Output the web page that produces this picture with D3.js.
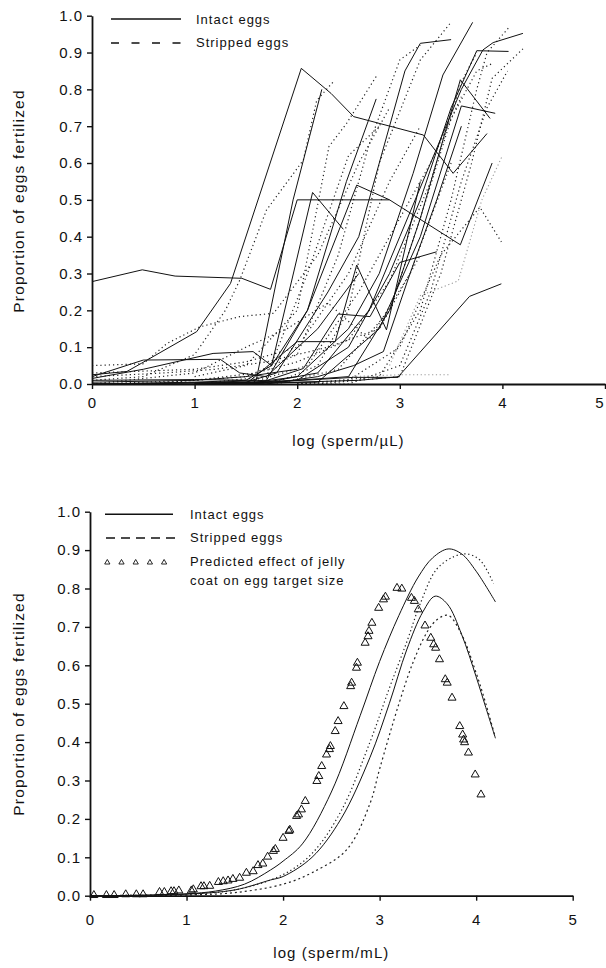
<!DOCTYPE html>
<html>
<head>
<meta charset="utf-8">
<script src="https://cdn.jsdelivr.net/npm/d3@7"></script>
<style>
  html, body { margin: 0; padding: 0; background: #fff; }
  svg { display: block; }
  text { font-family: "Liberation Sans", Arial, Helvetica, sans-serif; fill: #111; }
</style>
</head>
<body>
<svg id="fig" width="606" height="968"></svg>
<script>
// ---------- Panel A: individual fertilization trials, log (sperm/µL) vs proportion fertilized ----------
const xTicks = [0, 1, 2, 3, 4, 5];
const yTicks = [0, 0.1, 0.2, 0.3, 0.4, 0.5, 0.6, 0.7, 0.8, 0.9, 1.0];

// Intact-egg trials: [log sperm, proportion fertilized]
const intactTrials = [
  [[0,.278],[.49,.31],[.81,.293],[1.46,.287],[1.74,.257],[2.0,.5],[2.9,.5],[3.59,.378],[3.9,.6]],
  [[0,.025],[.34,.034],[.48,.056],[1.02,.142],[1.35,.273],[2.04,.857],[2.33,.789],[2.55,.726],[3.23,.676],[3.52,.572],[3.85,.68]],
  [[0,0],[1.0,.005],[1.5,.01],[1.75,.05],[2.15,.52],[2.45,.42]],
  [[0,0],[1.0,.003],[1.5,.005],[1.8,.03],[2.3,.25],[2.6,.4],[2.8,.6],[3.05,.85],[3.2,.925],[3.5,.935]],
  [[1.0,0],[1.6,.005],[2.0,.02],[2.5,.15],[2.8,.3],[3.13,.572],[3.42,.839],[3.71,.982]],
  [[1.2,0],[1.7,.005],[2.2,.03],[2.7,.2],[3.0,.4],[3.3,.6],[3.6,.8],[3.81,.907],[3.91,.927],[4.2,.952]],
  [[1.5,0],[2.0,.01],[2.5,.1],[2.9,.3],[3.2,.5],[3.5,.75],[3.75,.905],[4.06,.903]],
  [[1.0,0],[1.6,.003],[2.55,.018],[2.98,.018],[3.68,.238],[3.99,.272]],
  [[0,.01],[1.0,.012],[1.6,.01],[1.96,.5],[2.24,.8]],
  [[0.5,0],[1.2,.005],[1.7,.01],[2.1,.2],[2.48,.55],[2.77,.774]],
  [[1.0,0],[2.0,.01],[2.5,.02],[2.9,.2],[3.2,.45],[3.59,.826],[3.88,.721]],
  [[1.0,0],[2.2,.005],[2.8,.15],[3.2,.4],[3.6,.755],[3.93,.735]],
  [[0,.02],[.5,.065],[1.25,.067],[1.44,.03],[1.7,.02],[2.2,.15],[2.6,.3]],
  [[0,.015],[.5,.04],[1.18,.083],[1.57,.088],[1.75,.05],[2.1,.2],[2.58,.54],[2.9,.5]],
  [[1.5,0],[2.0,.115],[2.37,.115],[2.58,.323],[2.87,.147],[3.2,.55]],
  [[1.6,0],[2.06,.042],[2.4,.19],[2.71,.183],[3.0,.33],[3.36,.359]],
  [[1.7,0],[2.2,.02],[2.55,.05],[2.84,.088],[3.1,.3],[3.36,.5],[3.6,.7]],
  [[0,0],[1.5,0],[2.0,.005],[2.6,.01],[3.0,.02]],
  [[0,.005],[1.0,.01],[1.5,.02],[2.0,.04]]
];

// Jelly-stripped trials
const strippedTrials = [
  [[0,.05],[.5,.055],[.73,.11],[1.05,.155],[1.44,.183],[1.77,.192],[2.2,.35],[2.6,.6],[2.9,.75]],
  [[0,.01],[.5,.02],[1.0,.08],[1.3,.2],[1.44,.282],[1.7,.472],[2.06,.608],[2.19,.77],[2.35,.82]],
  [[1.0,.02],[1.5,.05],[2.0,.2],[2.31,.645],[2.48,.707],[2.77,.835]],
  [[1.5,0],[1.8,.005],[2.2,.05],[2.5,.2],[2.8,.6],[3.2,.88],[3.49,.979]],
  [[2.0,0],[2.8,.02],[3.2,.2],[3.5,.5],[3.75,.8],[3.85,.9],[4.07,.97]],
  [[2.2,0],[3.0,.02],[3.4,.3],[3.7,.6],[3.9,.83],[4.2,.91]],
  [[2.0,0],[2.5,.01],[3.0,.1],[3.4,.35],[3.78,.48],[3.99,.386]],
  [[2.0,0],[2.5,0],[3.0,.05],[3.3,.25],[3.6,.55],[3.85,.75],[4.05,.85]],
  [[0,.03],[1.0,.04],[1.5,.06],[2.0,.1],[2.5,.3],[2.9,.55],[3.2,.7]],
  [[0.5,0],[1.5,.02],[2.0,.08],[2.4,.35],[2.7,.65],[3.0,.88],[3.2,.92]],
  [[1.0,0],[1.7,.02],[2.1,.3],[2.5,.62],[2.8,.7]],
  [[1.5,0],[2.1,.05],[2.6,.25],[3.0,.45],[3.3,.6],[3.6,.78]],
  [[1.8,0],[2.4,.04],[2.9,.2],[3.2,.45],[3.5,.72],[3.75,.85],[3.9,.87]],
  [[0,0],[1.0,.03],[1.5,.1],[1.9,.15],[2.3,.22],[2.7,.12],[3.1,.3],[3.5,.6]],
  [[0,.02],[0.7,.03],[1.2,.04],[1.7,.06],[2.3,.1],[2.8,.15],[3.2,.35]],
  [[0,0],[1.0,.01],[1.6,.03],[2.0,.06],[2.5,.12],[2.9,.28],[3.3,.55],[3.6,.82],[3.75,.9]]
];
// Faint stripped trials
const strippedFaint = [
  [[2.5,.02],[3.0,.025],[3.5,.025]],
  [[2.9,.05],[3.2,.24],[3.57,.28],[3.8,.5],[4.0,.62]]
];

// ---------- Panel B: fitted curves and predicted jelly-coat effect ----------
const intactFitHigh = [[0,0],[0.5,.001],[1.0,.005],[1.3,.012],[1.6,.03],[1.87,.067],[2.0,.09],[2.2,.135],[2.5,.27],[2.8,.47],[3.0,.61],[3.2,.73],[3.4,.83],[3.55,.88],[3.71,.903],[3.85,.89],[4.0,.845],[4.2,.765]];
const intactFitLow  = [[0,0],[0.5,.001],[1.0,.004],[1.5,.015],[1.87,.041],[2.0,.05],[2.3,.1],[2.6,.2],[2.9,.36],[3.1,.5],[3.28,.64],[3.45,.74],[3.575,.78],[3.7,.76],[3.85,.68],[4.0,.57],[4.1,.49],[4.2,.41]];
const strippedFitHigh = [[0,0],[0.5,.001],[1.0,.004],[1.5,.015],[2.0,.055],[2.3,.11],[2.6,.22],[2.9,.40],[3.1,.54],[3.28,.66],[3.42,.76],[3.59,.85],[3.77,.883],[3.9,.89],[4.04,.874],[4.18,.813]];
const strippedFitLow  = [[0,0],[0.5,.001],[1.0,.002],[1.5,.008],[2.0,.03],[2.3,.06],[2.66,.12],[2.9,.24],[3.0,.33],[3.2,.5],[3.35,.61],[3.5,.69],[3.6,.72],[3.71,.73],[3.85,.68],[4.0,.58],[4.1,.50],[4.19,.42]];
const predicted = [
  [.04,0],[.17,0],[.25,0],[.37,.002],[.48,.002],[.55,.002],[.72,.008],[.77,.008],[.84,.01],[.87,.01],[.92,.012],
  [1.05,.012],[1.07,.015],[1.15,.023],[1.18,.023],[1.24,.024],[1.33,.034],[1.38,.036],[1.43,.038],[1.48,.042],
  [1.55,.045],[1.62,.058],[1.69,.062],[1.74,.078],[1.79,.082],[1.84,.1],[1.9,.115],[1.92,.12],[2.0,.149],
  [2.06,.167],[2.07,.17],[2.14,.206],[2.16,.21],[2.19,.223],[2.23,.245],[2.35,.297],[2.37,.31],[2.40,.336],
  [2.45,.366],[2.48,.38],[2.49,.388],[2.54,.427],[2.57,.453],[2.63,.492],[2.70,.544],[2.71,.553],[2.76,.592],
  [2.77,.605],[2.85,.657],[2.88,.674],[2.89,.688],[2.92,.709],[2.99,.748],[3.04,.77],[3.06,.777],[3.18,.80],
  [3.23,.798],[3.33,.774],[3.36,.766],[3.40,.744],[3.47,.702],[3.53,.67],[3.56,.653],[3.58,.644],[3.62,.614],
  [3.68,.562],[3.70,.553],[3.75,.514],[3.83,.44],[3.86,.418],[3.87,.405],[3.88,.398],[3.92,.371],[3.99,.314],[4.05,.262]
];

const svg = d3.select("#fig");
const tickFmt = d3.format(".1f");
const W = +svg.attr("width");

function drawAxes(g, x, y, xTitle, yTitle, yMid, xPad) {
  const yAxis = d3.axisLeft(y).tickValues(yTicks).tickFormat(tickFmt).tickSize(5).tickSizeOuter(0).tickPadding(4);
  const xAxis = d3.axisBottom(x).tickValues(xTicks).tickFormat(d3.format("d")).tickSize(5).tickSizeOuter(0).tickPadding(xPad);
  const ya = g.append("g").attr("transform", `translate(${x(0)},0)`).call(yAxis);
  const xa = g.append("g").attr("transform", `translate(0,${y(0)})`).call(xAxis);
  [ya, xa].forEach(a => {
    a.select(".domain").attr("stroke", "#111").attr("stroke-width", 1.8);
    a.selectAll(".tick line").attr("stroke", "#111").attr("stroke-width", 1.4);
    a.selectAll(".tick text").attr("font-size", 15).attr("letter-spacing", "1px")
      .attr("font-family", '"Liberation Sans", Arial, sans-serif').attr("fill", "#111");
  });
  // keep a tick label that sits on the page edge inside the page
  xa.selectAll(".tick").filter(d => x(d) > W - 6).select("text").attr("text-anchor", "end").attr("x", -1);
  g.append("text").attr("x", (x(0) + x(5)) / 2).attr("y", y(0) + 62)
    .attr("text-anchor", "middle").attr("font-size", 15).attr("letter-spacing", "1.1px").text(xTitle);
  g.append("text").attr("transform", `translate(24,${yMid}) rotate(-90)`)
    .attr("text-anchor", "middle").attr("font-size", 15.5).attr("letter-spacing", "1.2px").text(yTitle);
}

// ---- Panel A ----
{
  const x = d3.scaleLinear().domain([0, 5]).range([92, 605]);
  const y = d3.scaleLinear().domain([0, 1]).range([384, 15.7]);
  const g = svg.append("g");
  const line = d3.line().x(d => x(d[0])).y(d => y(d[1]));

  g.append("g").selectAll("path").data(strippedFaint).join("path")
    .attr("d", line).attr("fill", "none").attr("stroke", "#999").attr("stroke-width", 1.1)
    .attr("stroke-dasharray", "1.2,2.6");
  g.append("g").selectAll("path").data(strippedTrials).join("path")
    .attr("d", line).attr("fill", "none").attr("stroke", "#222").attr("stroke-width", 1.2)
    .attr("stroke-dasharray", "1.2,3");
  g.append("g").selectAll("path").data(intactTrials).join("path")
    .attr("d", line).attr("fill", "none").attr("stroke", "#111").attr("stroke-width", 1);

  drawAxes(g, x, y, "log (sperm/\u00b5L)", "Proportion of eggs fertilized", 201, 8);

  const lg = g.append("g");
  lg.append("line").attr("x1", 111).attr("x2", 181).attr("y1", 19).attr("y2", 19)
    .attr("stroke", "#111").attr("stroke-width", 1.6);
  lg.append("line").attr("x1", 111).attr("x2", 183).attr("y1", 43).attr("y2", 43)
    .attr("stroke", "#111").attr("stroke-width", 1.6).attr("stroke-dasharray", "8,12.5");
  lg.append("text").attr("x", 196).attr("y", 23.5).attr("font-size", 13).attr("letter-spacing", "1px").text("Intact eggs");
  lg.append("text").attr("x", 196).attr("y", 47).attr("font-size", 13).attr("letter-spacing", "1px").text("Stripped eggs");
}

// ---- Panel B ----
{
  const x = d3.scaleLinear().domain([0, 5]).range([90, 572.7]);
  const y = d3.scaleLinear().domain([0, 1]).range([895.7, 511.7]);
  const g = svg.append("g");
  const curve = d3.line().x(d => x(d[0])).y(d => y(d[1])).curve(d3.curveCatmullRom.alpha(0.5));

  g.append("g").selectAll("path").data([intactFitHigh, intactFitLow]).join("path")
    .attr("d", curve).attr("fill", "none").attr("stroke", "#111").attr("stroke-width", 1);
  g.append("g").selectAll("path").data([strippedFitHigh, strippedFitLow]).join("path")
    .attr("d", curve).attr("fill", "none").attr("stroke", "#222").attr("stroke-width", 1.2)
    .attr("stroke-dasharray", (d, i) => i === 0 ? "1.3,2.7" : "2,3");

  const tri = d3.symbol().type(d3.symbolTriangle).size(28);
  g.append("g").selectAll("path").data(predicted).join("path")
    .attr("transform", d => `translate(${x(d[0])},${y(d[1]) - 0.5})`)
    .attr("d", tri).attr("fill", "none").attr("stroke", "#111").attr("stroke-width", 1);

  drawAxes(g, x, y, "log (sperm/mL)", "Proportion of eggs fertilized", 704, 14);

  const lg = g.append("g");
  lg.append("line").attr("x1", 105).attr("x2", 173).attr("y1", 514.3).attr("y2", 514.3)
    .attr("stroke", "#111").attr("stroke-width", 1.6);
  lg.append("line").attr("x1", 106).attr("x2", 177).attr("y1", 538).attr("y2", 538)
    .attr("stroke", "#111").attr("stroke-width", 1.6).attr("stroke-dasharray", "9,6");
  const legendTri = d3.symbol().type(d3.symbolTriangle).size(12);
  lg.selectAll("path.lt").data([0, 1, 2, 3, 4]).join("path").attr("class", "lt")
    .attr("transform", i => `translate(${107.3 + i * 14.2},562.5)`)
    .attr("d", legendTri).attr("fill", "none").attr("stroke", "#111").attr("stroke-width", 0.9);
  const legendText = [["Intact eggs", 518.5], ["Stripped eggs", 542], ["Predicted effect of jelly", 565.5], ["coat on egg target size", 584.5]];
  lg.selectAll("text.lt").data(legendText).join("text").attr("class", "lt")
    .attr("x", 190).attr("y", d => d[1]).attr("font-size", 13).attr("letter-spacing", "1px").text(d => d[0]);
}
</script>
</body>
</html>
